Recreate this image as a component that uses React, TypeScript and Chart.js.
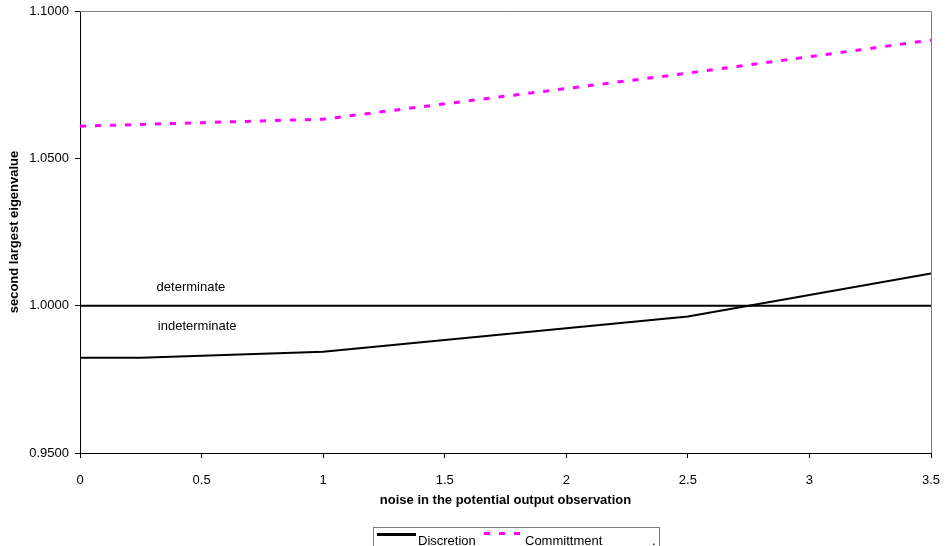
import React, { useEffect, useRef } from "react";
import { Chart, registerables } from "chart.js";

Chart.register(...registerables);

const noise = [0, 0.25, 1, 2.5, 3.5];
const discretion = [0.9823, 0.9823, 0.9844, 0.9963, 1.0109];
const committment = [1.0609, 1.0615, 1.0633, 1.0789, 1.0901];
const boundary = [1.0, 1.0, 1.0, 1.0, 1.0];
const yTicks = [0.95, 1.0, 1.05, 1.1];
const regionLabels = [
  { text: "determinate", x: 0.315, y: 1.0061 },
  { text: "indeterminate", x: 0.32, y: 0.9929 },
];

const FONT = "'Liberation Sans', Arial, sans-serif";

const toPts = (ys: number[]) => noise.map((x, i) => ({ x, y: ys[i] }));

const framePlugin = {
  id: "frame",
  beforeDatasetsDraw(chart: any) {
    const { ctx, chartArea } = chart;
    ctx.save();
    ctx.strokeStyle = "#808080";
    ctx.lineWidth = 1;
    ctx.beginPath();
    ctx.moveTo(chartArea.left, chartArea.top + 0.5);
    ctx.lineTo(chartArea.right + 0.5, chartArea.top + 0.5);
    ctx.lineTo(chartArea.right + 0.5, chartArea.bottom);
    ctx.stroke();
    ctx.restore();
  },
  afterDatasetsDraw(chart: any) {
    const { ctx, scales } = chart;
    ctx.save();
    ctx.fillStyle = "#000";
    ctx.font = `13px ${FONT}`;
    ctx.textAlign = "left";
    ctx.textBaseline = "middle";
    regionLabels.forEach((l) => {
      ctx.fillText(l.text, scales.x.getPixelForValue(l.x), scales.y.getPixelForValue(l.y));
    });
    ctx.restore();
  },
};

export default function App() {
  const ref = useRef<HTMLCanvasElement>(null);
  useEffect(() => {
    document.body.style.margin = "0";
    const chart = new Chart(ref.current!, {
      type: "line",
      data: {
        datasets: [
          {
            label: "boundary",
            data: toPts(boundary),
            borderColor: "#000",
            borderWidth: 2,
            pointRadius: 0,
            tension: 0,
          },
          {
            label: "Discretion",
            data: toPts(discretion),
            borderColor: "#000",
            borderWidth: 2,
            pointRadius: 0,
            tension: 0,
          },
          {
            label: "Committment",
            data: toPts(committment),
            borderColor: "#ff00ff",
            borderWidth: 3,
            borderDash: [6, 9],
            pointRadius: 0,
            tension: 0,
          },
        ],
      },
      options: {
        animation: false,
        responsive: false,
        layout: { padding: { top: 11, right: 15, bottom: 25, left: 0 } },
        plugins: { legend: { display: false }, tooltip: { enabled: false } },
        scales: {
          x: {
            type: "linear",
            min: 0,
            max: 3.5,
            ticks: {
              stepSize: 0.5,
              color: "#000",
              font: { family: FONT, size: 13 },
              padding: 15,
              maxRotation: 0,
              callback: (v: any) => String(Number(v)),
            },
            grid: { display: true, drawOnChartArea: false, drawTicks: true, tickLength: 5, color: "#000" },
            border: { color: "#000", width: 1 },
            title: {
              display: true,
              text: "noise in the potential output observation",
              color: "#000",
              font: { family: FONT, size: 13, weight: "bold" },
              padding: { top: 0, bottom: 13 },
            },
            afterFit: (s: any) => {
              s.height = 68;
              s.paddingLeft = 0;
              s.paddingRight = 0;
            },
          },
          y: {
            min: 0.95,
            max: 1.1,
            afterBuildTicks: (s: any) => {
              s.ticks = yTicks.map((v) => ({ value: v }));
            },
            ticks: {
              color: "#000",
              font: { family: FONT, size: 13 },
              padding: 6,
              callback: (v: any) => Number(v).toFixed(4),
            },
            grid: { display: true, drawOnChartArea: false, drawTicks: true, tickLength: 5, color: "#000" },
            border: { color: "#000", width: 1 },
            title: {
              display: true,
              text: "second largest eigenvalue",
              color: "#000",
              font: { family: FONT, size: 13, weight: "bold" },
              padding: { top: 7, bottom: 0 },
            },
            afterFit: (s: any) => {
              s.width = 80;
              s.paddingTop = 0;
              s.paddingBottom = 0;
            },
          },
        },
      },
      plugins: [framePlugin],
    });
    return () => chart.destroy();
  }, []);

  return (
    <div style={{ position: "relative", width: 946, height: 546, fontFamily: FONT }}>
      <canvas ref={ref} width={946} height={546} style={{ display: "block" }} />
      <div
        style={{
          position: "absolute",
          left: 373,
          top: 527,
          width: 287,
          height: 22,
          borderTop: "1px solid #808080",
          borderLeft: "1px solid #808080",
          borderRight: "1px solid #808080",
          boxSizing: "border-box",
          fontSize: 13,
          color: "#000",
        }}
      >
        <div style={{ position: "absolute", left: 3, top: 5, width: 39, height: 3, background: "#000" }} />
        <div style={{ position: "absolute", left: 44, top: 5, whiteSpace: "nowrap", lineHeight: "15px" }}>Discretion</div>
        <div style={{ position: "absolute", left: 110, top: 4, width: 6, height: 3, background: "#ff00ff" }} />
        <div style={{ position: "absolute", left: 125, top: 4, width: 6, height: 3, background: "#ff00ff" }} />
        <div style={{ position: "absolute", left: 140, top: 4, width: 6, height: 3, background: "#ff00ff" }} />
        <div style={{ position: "absolute", left: 151, top: 5, whiteSpace: "nowrap", lineHeight: "15px" }}>Committment</div>
        <div style={{ position: "absolute", left: 278, top: 5, whiteSpace: "nowrap", lineHeight: "15px" }}>.</div>
      </div>
    </div>
  );
}
